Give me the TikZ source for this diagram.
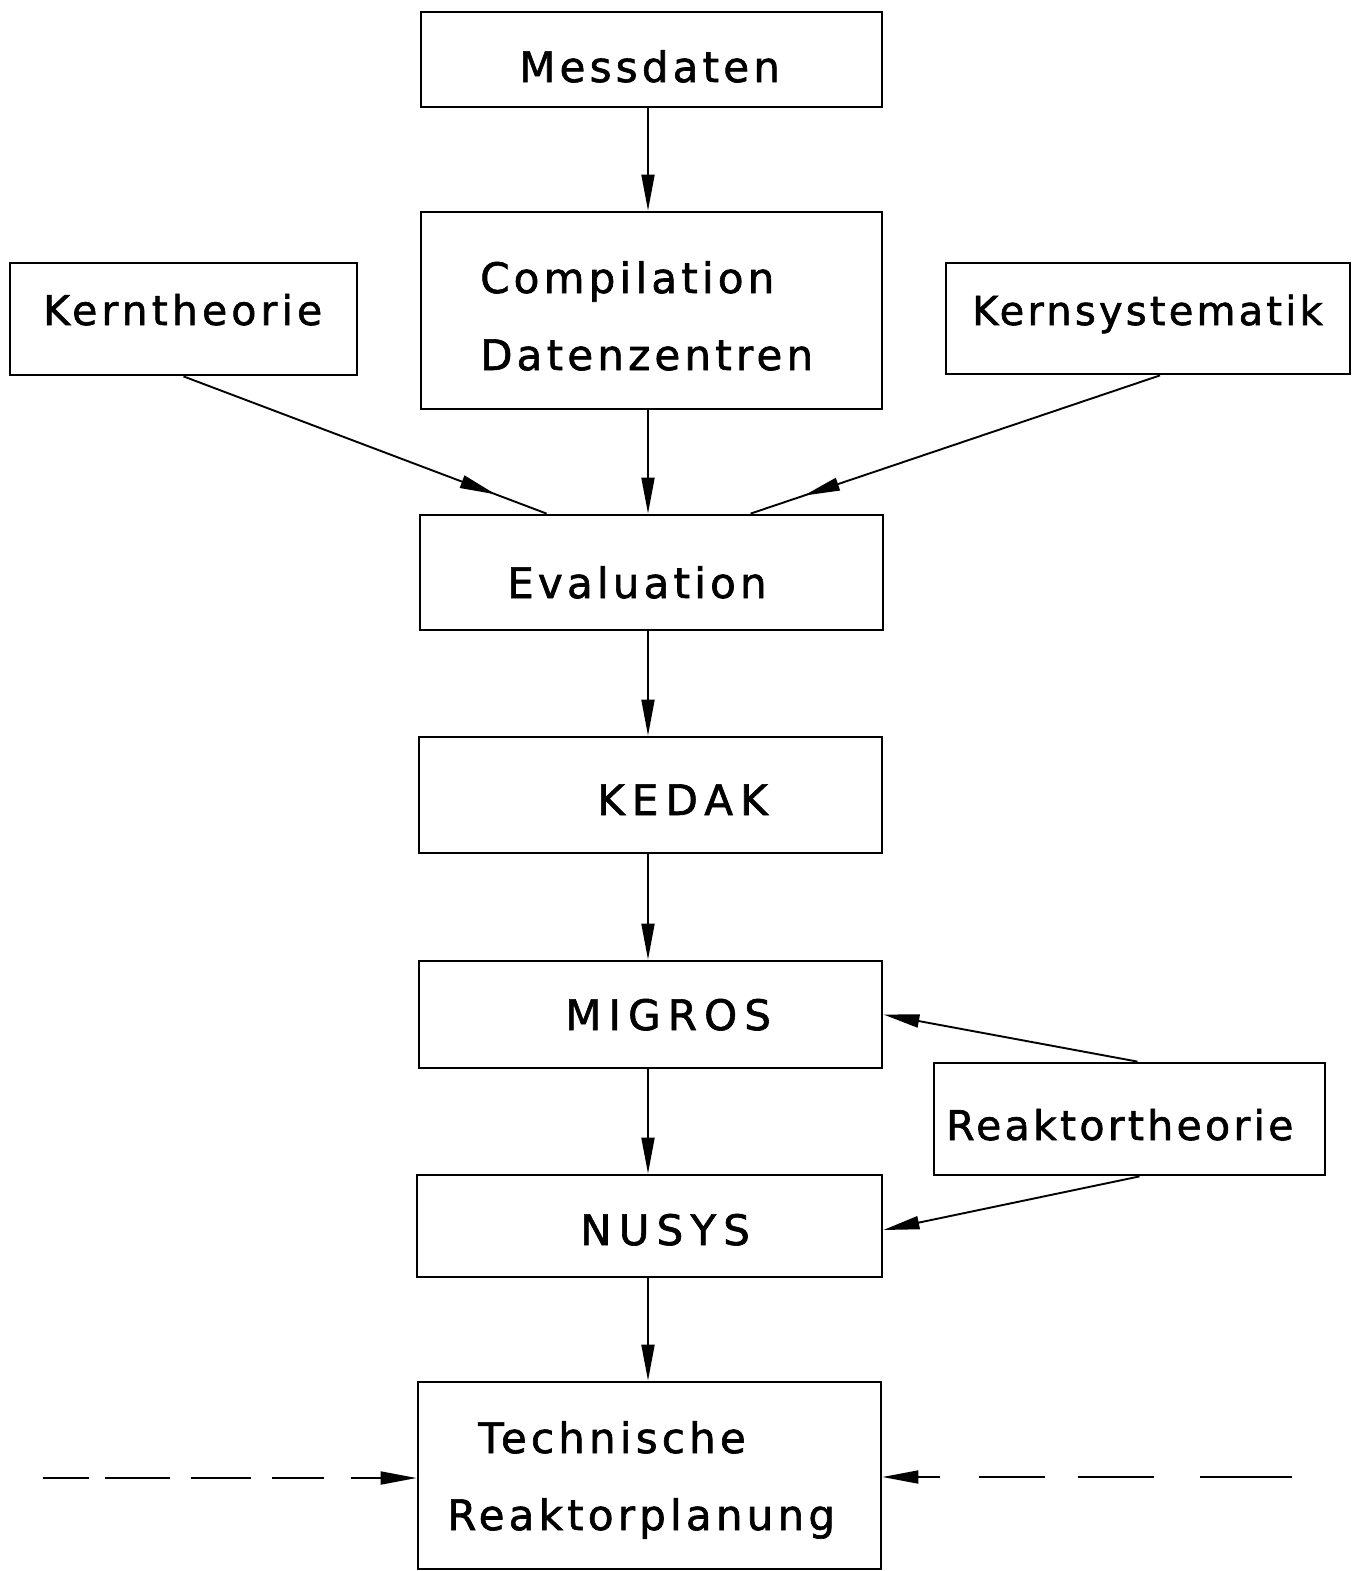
\documentclass[tikz,border=0pt]{standalone}
\usepackage{fontspec}
\usetikzlibrary{arrows.meta,calc,decorations.markings}
\newfontfamily\lblfont[LetterSpace=10,FakeBold=1.5]{DejaVu Sans}
\newfontfamily\narrowfont[LetterSpace=8,FakeBold=1.5]{DejaVu Sans}
\newfontfamily\capsfont[LetterSpace=17,FakeBold=1.5]{DejaVu Sans}
\begin{document}
\begin{tikzpicture}[x=1pt,y=-1pt,
  box/.style={draw,line width=2.8pt,inner sep=0pt},
  lbl/.style={anchor=base west,inner sep=0pt,font=\lblfont\fontsize{#1}{50}\selectfont},
  lbl/.default=42,
  lbln/.style={anchor=base west,inner sep=0pt,font=\narrowfont\fontsize{#1}{50}\selectfont},
  lbln/.default=40,
  lblc/.style={anchor=base west,inner sep=0pt,font=\capsfont\fontsize{42}{50}\selectfont},
  arr/.style={line width=1.9pt,-{Triangle[length=36pt,width=13pt]}},
  midarr/.style={line width=1.9pt,decoration={markings,mark=at position #1 with {\arrow{Triangle[length=36pt,width=13pt]}}},postaction={decorate}},
  dsh/.style={line width=1.9pt}
]
\useasboundingbox (0,0) rectangle (1354,1571);
% boxes
\node[box,minimum width=461pt,minimum height=95pt] (ms) at (651.5,59.5) {};
\node[box,minimum width=461pt,minimum height=197pt] (co) at (651.5,310.5) {};
\node[box,minimum width=347pt,minimum height=112pt] (kt) at (183.5,319) {};
\node[box,minimum width=404pt,minimum height=111pt] (ks) at (1148,318.5) {};
\node[box,minimum width=463pt,minimum height=115pt] (ev) at (651.5,572.5) {};
\node[box,minimum width=463pt,minimum height=116pt] (ke) at (650.5,795) {};
\node[box,minimum width=463pt,minimum height=107pt] (mi) at (650.5,1014.5) {};
\node[box,minimum width=391pt,minimum height=112pt] (rt) at (1129.5,1119) {};
\node[box,minimum width=465pt,minimum height=102pt] (nu) at (649.5,1226) {};
\node[box,minimum width=463pt,minimum height=187pt] (tr) at (649.5,1475.5) {};
% labels
\node[lbl] (tms) at (519,82) {Messdaten};
\node[lbl] (tco1) at (480,293) {Compilation};
\node[lbl] (tco2) at (480,370) {Datenzentren};
\node[lbl=41] (tkt) at (43,325) {Kerntheorie};
\node[lbln] (tks) at (972,325) {Kernsystematik};
\node[lbl] (tev) at (507,598) {Evaluation};
\node[lblc] (tke) at (597,815) {KEDAK};
\node[lblc] (tmi) at (565,1030) {MIGROS};
\node[lbln=41] (trt) at (946,1140) {Reaktortheorie};
\node[lblc] (tnu) at (580,1245) {NUSYS};
\node[lbl] (ttr1) at (478,1453) {Technische};
\node[lbl] (ttr2) at (447,1530) {Reaktorplanung};
% vertical arrows
\coordinate (ax) at (648,0);
\draw[arr] (ms.south -| ax) -- (co.north -| ax);
\draw[arr] (co.south -| ax) -- (ev.north -| ax);
\draw[arr] (ev.south -| ax) -- (ke.north -| ax);
\draw[arr] (ke.south -| ax) -- (mi.north -| ax);
\draw[arr] (mi.south -| ax) -- (nu.north -| ax);
\draw[arr] (nu.south -| ax) -- (tr.north -| ax);
% diagonal arrows
\draw[midarr=0.86] (kt.south) -- ($(ev.north west)+(128,0)$);
\draw[midarr=0.87] ($(ks.south)+(12,0)$) -- ($(ev.north west)+(332,0)$);
\draw[arr] ($(rt.north)+(8,0)$) -- (mi.east);
\draw[arr] ($(rt.south)+(10,0)$) -- ($(nu.east)+(0,4)$);
% dashed inputs
\coordinate (dl) at (43,1478);
\coordinate (dr) at (1292,1477);
\draw[dsh,-{Triangle[length=36pt,width=13pt]},dash pattern=on 46pt off 16pt on 65pt off 21pt on 60pt off 21pt on 52pt off 27pt on 80pt] (dl) -- (tr.west |- dl);
\draw[dsh,{Triangle[length=36pt,width=13pt]}-,dash pattern=on 22pt off 39pt on 66pt off 33pt on 76pt off 46pt on 120pt] (tr.east |- dr) -- (dr);
\end{tikzpicture}
\end{document}
